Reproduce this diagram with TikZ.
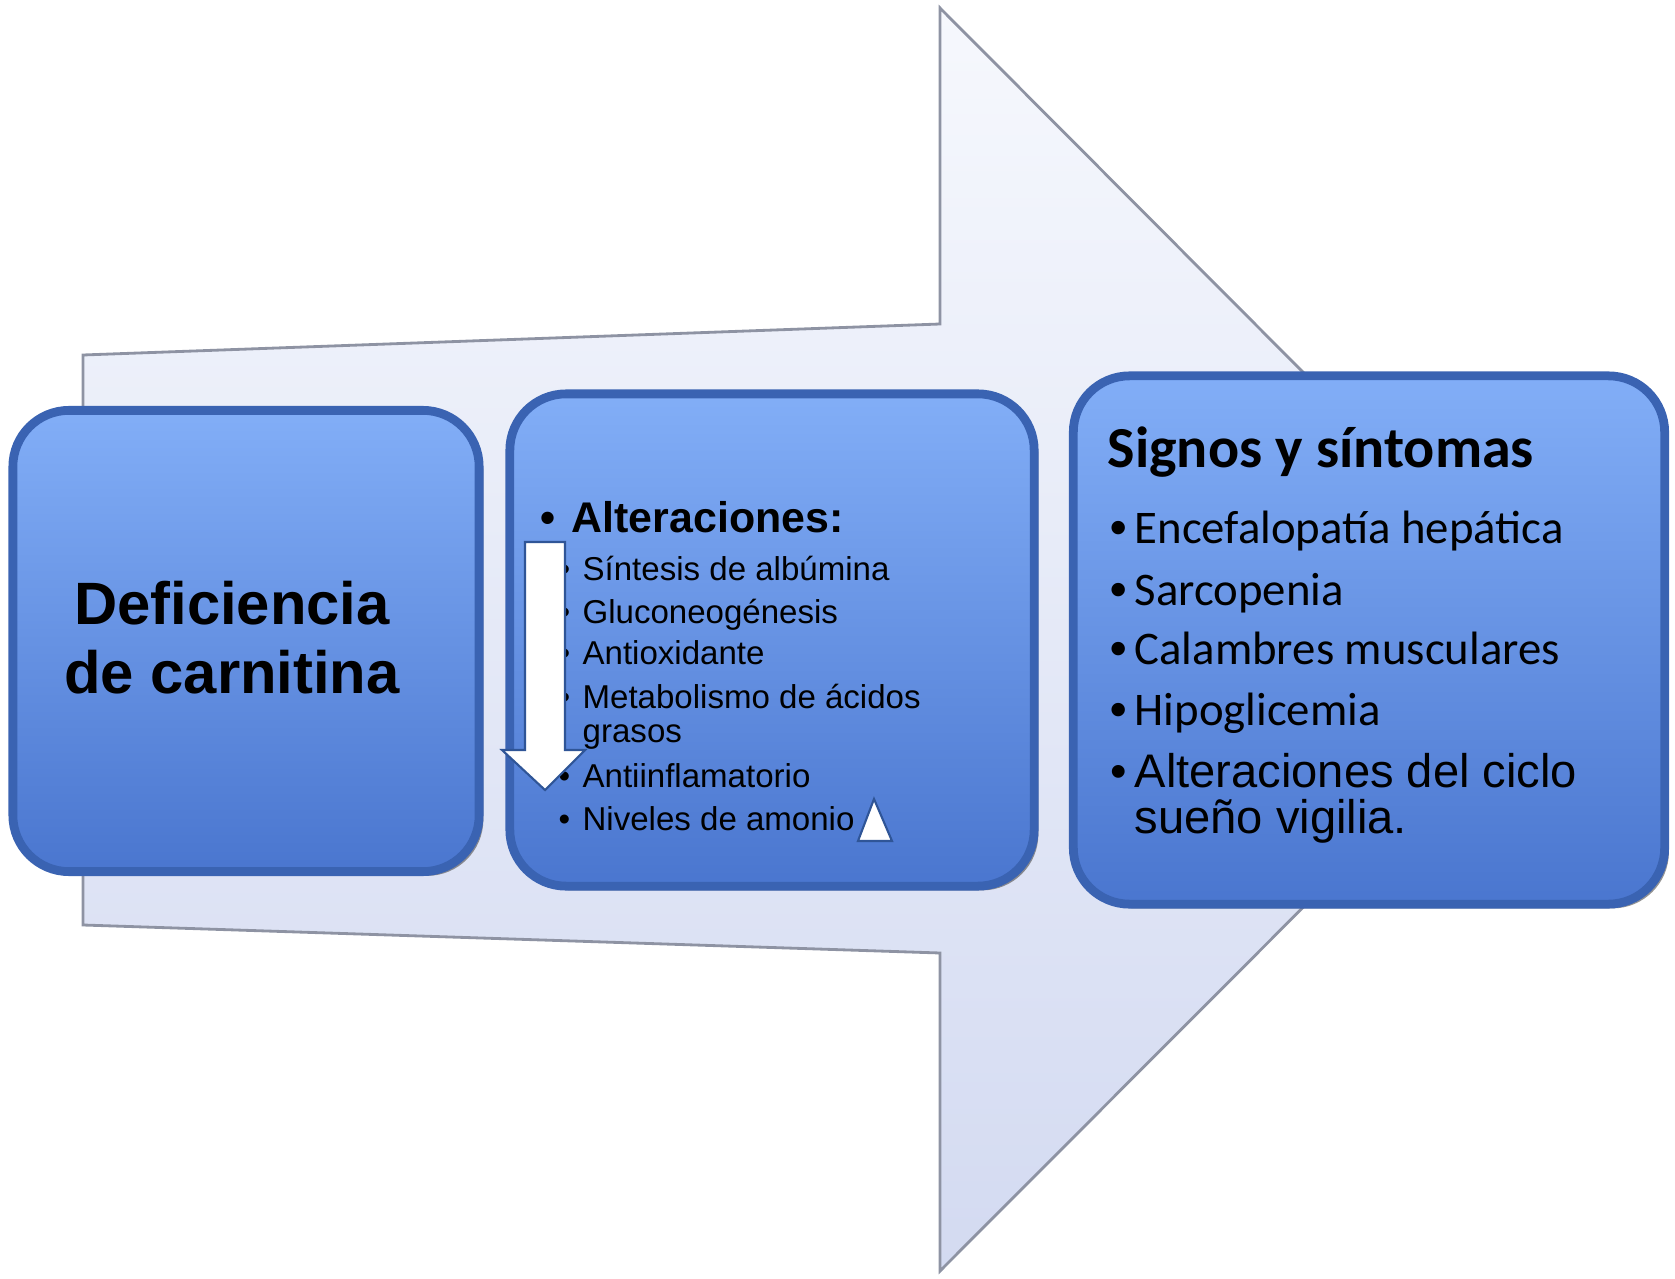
\documentclass[tikz,border=0pt]{standalone}
\usepackage{fontspec}
\setmainfont{Liberation Sans}
\newfontfamily\calibri{Carlito}
\usepackage{tikz}
\usetikzlibrary{shadows}
\usepackage{xcolor}

\definecolor{flechaclara}{HTML}{F6F8FD}
\definecolor{flechaoscura}{HTML}{D3DAF1}
\definecolor{flechaborde}{HTML}{8E93A3}
\definecolor{cajaarriba}{HTML}{82AEF7}
\definecolor{cajaabajo}{HTML}{4A76CF}
\definecolor{cajaborde}{HTML}{3A63B2}
\definecolor{marcaborde}{HTML}{2F5597}

\begin{document}
\begin{tikzpicture}[
  x=0.01cm, y=-0.01cm,
  flechona/.style={
    draw=flechaborde, line width=0.8pt, line join=miter,
    top color=flechaclara, bottom color=flechaoscura
  },
  caja/.style={
    draw=cajaborde, line width=2.5pt, rounded corners=16pt,
    top color=cajaarriba, bottom color=cajaabajo,
    drop shadow={shadow xshift=1.2pt, shadow yshift=-1.2pt, fill=black!70, opacity=.6}
  },
  marca/.style={draw=marcaborde, fill=white, line width=0.6pt, line join=miter},
  linea/.style={anchor=base west, inner sep=0pt}
]
\useasboundingbox (0,0) rectangle (1675,1279);

% --- Flecha de fondo ---
\draw[flechona] (83,355) -- (940,324) -- (940,8) -- (1570,640)
  -- (940,1271) -- (940,953) -- (83,925) -- cycle;

% --- Cajas ---
\node[caja, minimum width=4.66cm, minimum height=4.61cm] (deficiencia) at (246,641) {};
\node[caja, minimum width=5.24cm, minimum height=4.92cm] (alteraciones) at (772,640) {};
\node[caja, minimum width=5.91cm, minimum height=5.28cm] (signos) at (1369,640) {};

% --- Caja 1 ---
\node[align=center, font=\fontsize{17pt}{19.6pt}\selectfont\bfseries] (deftexto) at (232,638)
  {Deficiencia\\de carnitina};

% --- Caja 2 ---
\node[linea, font=\fontsize{12.2pt}{14pt}\selectfont\bfseries] (alttitulo) at (540,532)
  {\makebox[8.8pt][l]{\textbullet}Alteraciones:};
\node[linea, font=\fontsize{9.4pt}{11pt}\selectfont] (alt1) at (558,580) {\makebox[6.8pt][l]{\textbullet}Síntesis de albúmina};
\node[linea, font=\fontsize{9.4pt}{11pt}\selectfont] (alt2) at (558,623) {\makebox[6.8pt][l]{\textbullet}Gluconeogénesis};
\node[linea, font=\fontsize{9.4pt}{11pt}\selectfont] (alt3) at (558,664) {\makebox[6.8pt][l]{\textbullet}Antioxidante};
\node[linea, font=\fontsize{9.4pt}{11pt}\selectfont] (alt4) at (558,708) {\makebox[6.8pt][l]{\textbullet}Metabolismo de ácidos};
\node[linea, font=\fontsize{9.4pt}{11pt}\selectfont] (alt4b) at (582,742) {grasos};
\node[linea, font=\fontsize{9.4pt}{11pt}\selectfont] (alt5) at (558,787) {\makebox[6.8pt][l]{\textbullet}Antiinflamatorio};
\node[linea, font=\fontsize{9.4pt}{11pt}\selectfont] (alt6) at (558,830) {\makebox[6.8pt][l]{\textbullet}Niveles de amonio};

% flecha blanca (disminuye) y triangulo (aumenta)
\draw[marca] (525,542) -- (565,542) -- (565,750) -- (585,750) -- (545,790)
  -- (502,750) -- (525,750) -- cycle;
\draw[marca] (858,841) -- (892,841) -- (874,799) -- cycle;

% --- Caja 3 ---
\node[linea, font=\calibri\fontsize{16.5pt}{19pt}\selectfont\bfseries] (sigtitulo) at (1107,467)
  {Signos y síntomas};
\node[linea, font=\calibri\fontsize{13.3pt}{16pt}\selectfont] (sig1) at (1110,543) {\makebox[6.8pt][l]{\rmfamily\bfseries\textbullet}Encefalopatía hepática};
\node[linea, font=\calibri\fontsize{13.3pt}{16pt}\selectfont] (sig2) at (1110,605) {\makebox[6.8pt][l]{\rmfamily\bfseries\textbullet}Sarcopenia};
\node[linea, font=\calibri\fontsize{13.3pt}{16pt}\selectfont] (sig3) at (1110,664) {\makebox[6.8pt][l]{\rmfamily\bfseries\textbullet}Calambres musculares};
\node[linea, font=\calibri\fontsize{13.3pt}{16pt}\selectfont] (sig4) at (1110,725) {\makebox[6.8pt][l]{\rmfamily\bfseries\textbullet}Hipoglicemia};
\node[linea, font=\fontsize{13.4pt}{16pt}\selectfont] (sig5) at (1110,787) {\makebox[6.8pt][l]{\textbullet}Alteraciones del ciclo};
\node[linea, font=\fontsize{13.4pt}{16pt}\selectfont] (sig5b) at (1134,833) {sueño vigilia.};

\end{tikzpicture}
\end{document}
